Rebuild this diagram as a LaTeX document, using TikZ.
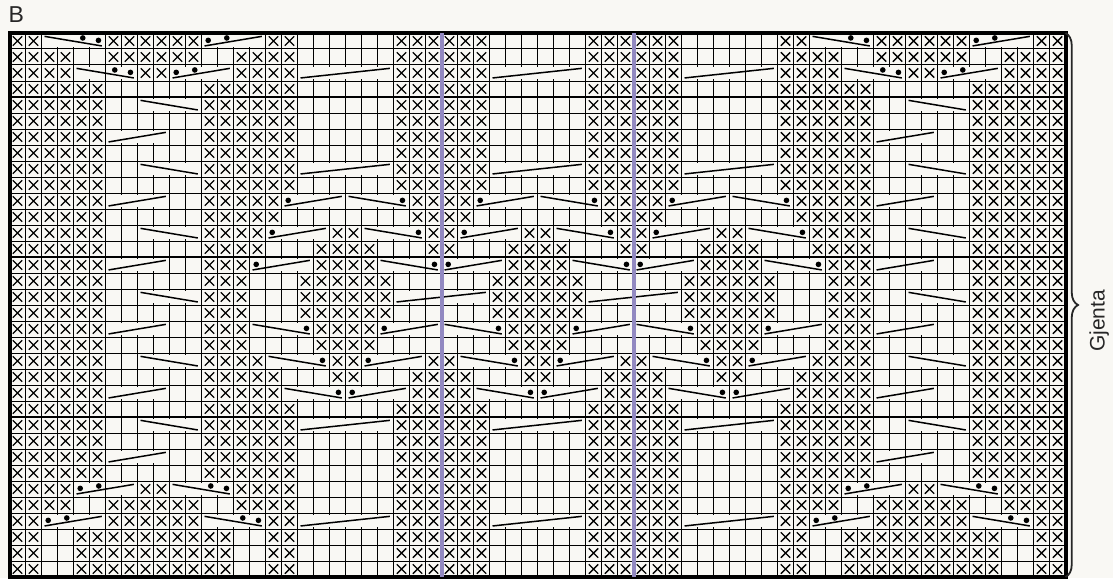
\documentclass[tikz,border=0pt]{standalone}
\usepackage{fontspec}
\setmainfont{Liberation Sans}
\usetikzlibrary{decorations.pathreplacing}
\definecolor{paper}{HTML}{F9F8F4}
\definecolor{ink}{HTML}{000000}
\definecolor{marker}{HTML}{9289C1}

\newcommand{\knitx}[2]{\draw[stitch] (#2+.21,#1+.21) -- (#2+.79,#1+.79) (#2+.79,#1+.21) -- (#2+.21,#1+.79);}
\newcommand{\cableup}[4]{%
  \fill[paper] (#2+.1,#1+.1) rectangle (#2+#3-.1,#1+.9);
  \draw[strand] (#2+.19,#1+.81) -- (#2+#3-.23,#1+.21);
  \ifnum#4>0 \fill[ink] (#2+.42,#1+.46) circle [radius=2.8pt];\fi
  \ifnum#4>1 \fill[ink] (#2+1.58,#1+.31) circle [radius=2.8pt];\fi}
\newcommand{\cabledown}[4]{%
  \fill[paper] (#2+.1,#1+.1) rectangle (#2+#3-.1,#1+.9);
  \draw[strand] (#2+.19,#1+.21) -- (#2+#3-.23,#1+.81);
  \ifnum#4>0 \fill[ink] (#2+#3-.44,#1+.46) circle [radius=2.8pt];\fi
  \ifnum#4>1 \fill[ink] (#2+#3-1.42,#1+.31) circle [radius=2.8pt];\fi}

\begin{document}
\begin{tikzpicture}[
      x=16pt, y=-16pt,
      thin line/.style={draw=ink, line width=1pt},
      heavy/.style={draw=ink, line width=1.9pt},
      stitch/.style={draw=ink, line width=1.4pt},
      strand/.style={draw=ink, line width=1.5pt},
      lab/.style={text=ink!85, inner sep=0pt}]
    \fill[paper] (-.59375,-2.0625) rectangle (68.96875,34.0625);
    \useasboundingbox (-.59375,-2.0625) rectangle (68.96875,34.0625);

    % cell walls
    \foreach \c in {1,...,65} \draw[thin line] (\c,0) -- (\c,34);

    % purl cells: rows / runs of columns
    \foreach \rows/\runs in {
        {0,30}/{0/1,6/11,16/17,24/29,36/41,48/49,54/59,64/65},
        {1,29}/{0/3,6/11,14/17,24/29,36/41,48/51,54/59,62/65},
        {2,28}/{0/3,8/9,14/17,24/29,36/41,48/51,56/57,62/65},
        {3,4,5,6,7,8,9,23,24,25,26,27}/{0/5,12/17,24/29,36/41,48/53,60/65},
        {10,11,22}/{0/5,12/16,25/28,37/40,49/53,60/65},
        {12}/{0/5,12/15,20/21,26/27,32/33,38/39,44/45,50/53,60/65},
        {13}/{0/5,12/15,19/22,26/27,31/34,38/39,43/46,50/53,60/65},
        {14,18,19}/{0/5,12/14,19/22,31/34,43/46,51/53,60/65},
        {15,16,17}/{0/5,12/14,18/23,30/35,42/47,51/53,60/65},
        {20}/{0/5,12/15,20/21,26/27,32/33,38/39,44/45,50/53,60/65},
        {21}/{0/5,12/16,20/21,25/28,32/33,37/40,44/45,49/53,60/65},
        {31,32,33}/{0/1,4/13,16/17,24/29,36/41,48/49,52/61,64/65}}
      \foreach \r in \rows
        \foreach \a/\b in \runs
          \foreach \c in {\a,...,\b} {\knitx{\r}{\c}}

    % cables leaning right: rows / column, width, dots
    \foreach \rows/\runs in {
        {0}/{12/4/2,60/4/2},
        {2}/{10/4/2,58/4/2,18/6/0,30/6/0,42/6/0},
        {6,26}/{6/4/0,54/4/0},
        {8,24}/{18/6/0,30/6/0,42/6/0},
        {10}/{6/4/0,17/4/1,29/4/1,41/4/1,54/4/0},
        {12}/{16/4/1,28/4/1,40/4/1},
        {14}/{6/4/0,15/4/1,27/4/1,39/4/1,54/4/0},
        {16}/{24/6/0,36/6/0},
        {18}/{6/4/0,23/4/1,35/4/1,47/4/1,54/4/0},
        {20}/{22/4/1,34/4/1,46/4/1},
        {22}/{6/4/0,21/4/1,33/4/1,45/4/1,54/4/0},
        {28}/{4/4/2,52/4/2},
        {30}/{2/4/2,50/4/2,18/6/0,30/6/0,42/6/0}}
      \foreach \r in \rows
        \foreach \c/\n/\d in \runs {\cableup{\r}{\c}{\n}{\d}}

    % cables leaning left
    \foreach \rows/\runs in {
        {0}/{2/4/2,50/4/2},
        {2}/{4/4/2,52/4/2},
        {4,8,16,24}/{8/4/0,56/4/0},
        {10}/{21/4/1,33/4/1,45/4/1},
        {12}/{8/4/0,22/4/1,34/4/1,46/4/1,56/4/0},
        {14}/{23/4/1,35/4/1,47/4/1},
        {18}/{15/4/1,27/4/1,39/4/1},
        {20}/{8/4/0,16/4/1,28/4/1,40/4/1,56/4/0},
        {22}/{17/4/1,29/4/1,41/4/1},
        {28}/{10/4/2,58/4/2},
        {30}/{12/4/2,60/4/2}}
      \foreach \r in \rows
        \foreach \c/\n/\d in \runs {\cabledown{\r}{\c}{\n}{\d}}

    \foreach \r in {1,...,33} \draw[thin line] (0,\r) -- (66,\r);
    \foreach \c in {6,16,...,56} \draw[heavy] (\c,0) -- (\c,34);
    \foreach \r in {4,14,24} \draw[heavy] (0,\r) -- (66,\r);
    \draw[ink, line width=4pt] (0,0) rectangle (66,34);
    \foreach \c in {27,39} \draw[marker, line width=4pt] (\c,0) -- (\c,34);

    \node[lab, font=\fontsize{23}{27}\selectfont, anchor=base west] (chart) at (-.06,-.66) {B};
    \coordinate (repeattop) at (66,0);
    \coordinate (repeatend) at (66,34);
    \draw[ink!85, line width=1.8pt, decorate, decoration={brace, amplitude=12.5pt}] (repeattop) -- (repeatend);
    \node[lab, font=\fontsize{21}{25}\selectfont, rotate=90, anchor=base] (repeat) at (68.45,18) {Gjenta};
  \end{tikzpicture}
\end{document}
